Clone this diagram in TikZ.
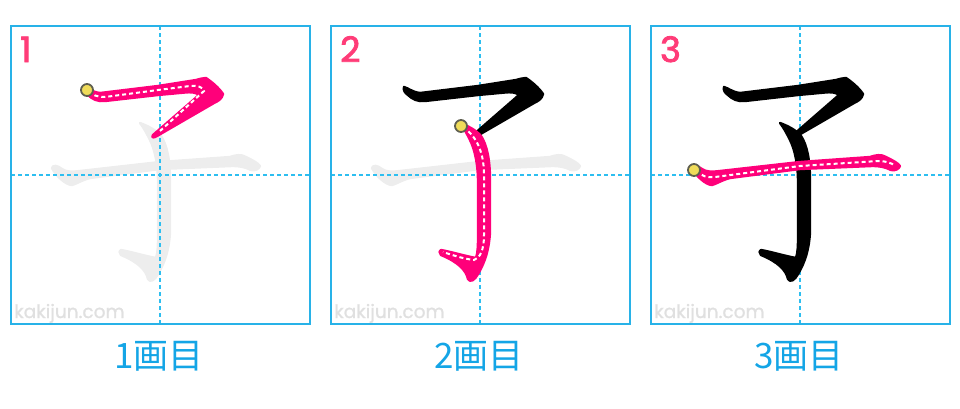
\documentclass[tikz,border=0pt]{standalone}
\usepackage{fontspec}
\newfontfamily\cjkfont{Noto Sans CJK JP}
\newfontfamily\numfont{Poppins}[FakeBold=2.5]
\newfontfamily\wmfont{Poppins}[FakeBold=1.2]
\definecolor{framecyan}{RGB}{40,178,232}
\definecolor{gridcyan}{RGB}{45,190,240}
\definecolor{labelcyan}{RGB}{20,165,230}
\definecolor{strokepink}{RGB}{255,0,122}
\definecolor{numpink}{RGB}{255,60,120}
\definecolor{ghost}{RGB}{237,237,237}
\definecolor{wmgray}{RGB}{224,224,224}
\definecolor{dotyellow}{RGB}{240,220,90}
\definecolor{dotring}{RGB}{95,95,80}
\def\strA{(84,87) .. controls (88,88) and (92,92) .. (100,93) -- (158,86) -- (196,80)
 .. controls (200,79) and (203,78) .. (206,78)
 .. controls (212,82) and (219,88) .. (223,94)
 .. controls (222,99) and (218,101) .. (214,103) -- (157,136)
 .. controls (154,138) and (151,138) .. (153,135) -- (199,95)
 .. controls (196,92) and (190,92) .. (185,92.5) -- (158,95) -- (105,101)
 .. controls (98,102) and (92,99) .. (88,95)
 .. controls (85,93) and (83,90) .. (84,87) -- cycle}
\def\strB{(140,123) .. controls (148,126) and (156,130) .. (161,136)
 .. controls (167,145) and (170,160) .. (170,180) -- (170,232)
 .. controls (169,250) and (165,262) .. (158,274)
 .. controls (155,280) and (150,283) .. (148,279)
 .. controls (146,270) and (138,262) .. (121,255)
 .. controls (119,253) and (119,250) .. (121,250)
 .. controls (132,252) and (145,256) .. (156,258)
 .. controls (158,252) and (158,245) .. (158,235) -- (158,182)
 .. controls (158,165) and (155,150) .. (150,140)
 .. controls (147,134) and (144,128) .. (140,123) -- cycle}
\def\strC{(52,168) .. controls (53,165) and (57,165) .. (62,169)
 .. controls (66,172) and (72,172) .. (80,171) -- (160,162) -- (230,157)
 .. controls (236,155) and (241,154) .. (246,157)
 .. controls (252,160) and (258,163) .. (260,166)
 .. controls (259,169) and (255,171) .. (251,170)
 .. controls (245,167) and (240,166) .. (232,166) -- (160,169) -- (90,178)
 .. controls (82,180) and (76,184) .. (72,185)
 .. controls (66,185) and (56,176) .. (52,168) -- cycle}
\def\cenA{(89,91) .. controls (92,95) and (97,97) .. (105,97) -- (158,90) -- (190,86)
 .. controls (197,85) and (203,87) .. (204,91) -- (160,131)}
\def\cenB{(143,127) .. controls (155,135) and (164,150) .. (164,175) -- (164,235)
 .. controls (164,250) and (160,258) .. (154,260)
 .. controls (145,259) and (135,256) .. (123,252)}
\def\cenC{(56,171) .. controls (62,176) and (67,178) .. (75,177) -- (160,166) -- (238,161)
 .. controls (246,161) and (252,163) .. (255,166)}
\tikzset{
  panelframe/.style={draw=framecyan, line width=1.3pt},
  centerline/.style={draw=gridcyan, line width=1.4pt, dash pattern=on 4pt off 3pt},
  centerdash/.style={draw=white, line width=2pt, dash pattern=on 4pt off 3pt},
  brush/.style={fill=#1, draw=#1, line width=2.4pt, line join=round},
  startdot/.style={circle, fill=dotyellow, draw=dotring, line width=1.8pt, minimum size=12pt, inner sep=0pt},
  stepnum/.style={text=numpink, font=\numfont\fontsize{35}{35}\selectfont, anchor=base west, inner sep=0pt},
  watermark/.style={text=wmgray, font=\wmfont\fontsize{18.5}{18.5}\selectfont, anchor=base west, inner sep=0pt},
  steplabel/.style={text=labelcyan, font=\cjkfont\fontsize{35}{35}\selectfont, inner sep=0pt}
}
\begin{document}
\begin{tikzpicture}[x=1pt,y=-1pt]
\useasboundingbox (0,0) rectangle (960,408);
% ---------- panel 1 ----------
\begin{scope}
  \path[brush=ghost] \strB; \path[brush=ghost] \strC;
  \draw[centerline] (160,26) -- (160,324);
  \draw[centerline] (11,175) -- (310,175);
  \path[brush=strokepink] \strA;
  \draw[centerdash] \cenA;
  \node[startdot] (d1) at (87,90) {};
  \node[stepnum] (n1) at (20,62) {1};
  \node[watermark] (w1) at (14,318) {kakijun.com};
  \draw[panelframe] (11,26) rectangle (310,324);
  \node[steplabel] (l1) at (159,356) {1画目};
\end{scope}
% ---------- panel 2 ----------
\begin{scope}[shift={(320,0)}]
  \path[brush=ghost] \strC;
  \draw[centerline] (160,26) -- (160,324);
  \draw[centerline] (11,175) -- (310,175);
  \path[brush=black] \strA;
  \path[brush=strokepink] \strB;
  \draw[centerdash] \cenB;
  \node[startdot] (d2) at (141,126) {};
  \node[stepnum] (n2) at (20,62) {2};
  \node[watermark] (w2) at (14,318) {kakijun.com};
  \draw[panelframe] (11,26) rectangle (310,324);
  \node[steplabel] (l2) at (159,356) {2画目};
\end{scope}
% ---------- panel 3 ----------
\begin{scope}[shift={(640,0)}]
  \draw[centerline] (160,26) -- (160,324);
  \draw[centerline] (11,175) -- (310,175);
  \path[brush=black] \strA;
  \path[brush=black] \strB;
  \path[brush=strokepink] \strC;
  \draw[centerdash] \cenC;
  \node[startdot] (d3) at (54,170) {};
  \node[stepnum] (n3) at (20,62) {3};
  \node[watermark] (w3) at (14,318) {kakijun.com};
  \draw[panelframe] (11,26) rectangle (310,324);
  \node[steplabel] (l3) at (159,356) {3画目};
\end{scope}
\end{tikzpicture}
\end{document}
